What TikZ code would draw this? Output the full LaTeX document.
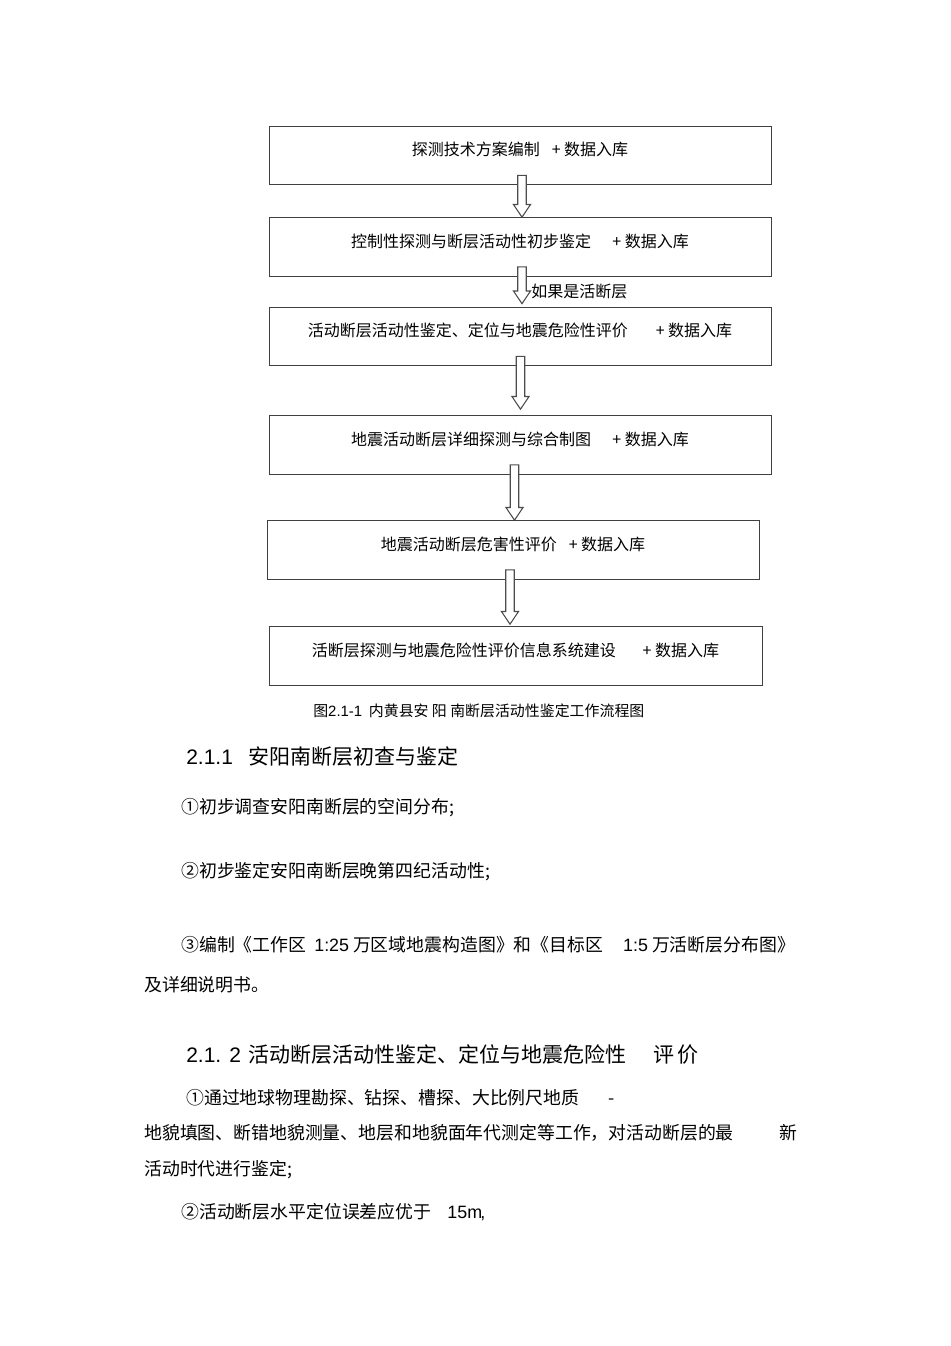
\documentclass[tikz,border=0pt]{standalone}
\usepackage{fontspec}
\setmainfont{Noto Sans CJK SC}
\newfontfamily\latfont{Liberation Sans}
\usetikzlibrary{positioning}
\usetikzlibrary{calc}

\newcommand{\lat}[1]{{\latfont #1}}
% hollow block arrow: from node, to node, x position, gap above target
\newcommand{\flowarrow}[4]{%
  \coordinate (ax) at (#3,0);
  \draw[hollow] let \p1=($(#1.south -| ax)+(0,-10)$), \p2=($(#2.north -| ax)+(0,-#4)$) in
    (\x1-3.2pt,\y1) -- (\x1-3.2pt,\y2+9.5pt) -- (\x1-6.4pt,\y2+9.5pt) -- (\x2,\y2)
    -- (\x1+6.4pt,\y2+9.5pt) -- (\x1+3.2pt,\y2+9.5pt) -- (\x1+3.2pt,\y1) -- cycle;
}

\begin{document}
\begin{tikzpicture}[x=0.75pt, y=-0.75pt,
    flowbox/.style={draw=black!75, line width=0.75pt, minimum height=44pt, inner sep=0pt,
      text height=8pt, text depth=8pt, font=\fontsize{12}{14}\selectfont},
    hollow/.style={draw=black!70, line width=0.8pt, fill=white},
    body/.style={anchor=west, inner sep=0pt, font=\fontsize{13.4}{16}\selectfont},
    heading/.style={anchor=west, inner sep=0pt, font=\fontsize{15.75}{18}\selectfont}]
  \useasboundingbox (0,0) rectangle (950,1346);

  % work flow of the fault survey
  \node[flowbox, minimum width=376.5pt] (plan) at (520,155.5) {探测技术方案编制\hspace{9pt}+ 数据入库};
  \node[flowbox, minimum width=376.5pt] (control) at (520,247) {控制性探测与断层活动性初步鉴定\hspace{16pt}+ 数据入库};
  \node[flowbox, minimum width=376.5pt] (locate) at (520,336.5) {活动断层活动性鉴定、定位与地震危险性评价\hspace{21pt}+ 数据入库};
  \node[flowbox, minimum width=376.5pt] (detail) at (520,445) {地震活动断层详细探测与综合制图\hspace{16pt}+ 数据入库};
  \node[flowbox, minimum width=369pt] (hazard) at (513,550) {地震活动断层危害性评价\hspace{9pt}+ 数据入库};
  \node[flowbox, minimum width=369.75pt] (system) at (515.5,656) {活断层探测与地震危险性评价信息系统建设\hspace{20pt}+ 数据入库};

  \flowarrow{plan}{control}{522}{0}
  \flowarrow{control}{locate}{522}{3}
  \flowarrow{locate}{detail}{520.5}{6}
  \flowarrow{detail}{hazard}{514.5}{0}
  \flowarrow{hazard}{system}{510}{2}

  \node[anchor=west, inner sep=0pt, font=\fontsize{12}{14}\selectfont] (cond) at (531,291) {如果是活断层};

  \node[anchor=west, inner sep=0pt, font=\fontsize{11.2}{13}\selectfont] (caption) at (313,711)
    {图\lat{2.1-1}\hspace{5pt}内黄县安 阳 南断层活动性鉴定工作流程图};

  % text below the figure
  \node[heading] (sec1) at (186,757) {\lat{2.1.1}\hspace{12pt}安阳南断层初查与鉴定};
  \node[body] (sec1a) at (181,808) {①初步调查安阳南断层的空间分布;};
  \node[body] (sec1b) at (181,872) {②初步鉴定安阳南断层晚第四纪活动性;};
  \node[body] (sec1c) at (181,945) {③编制《工作区\hspace{6pt}\lat{1:25} 万区域地震构造图》和《目标区\hspace{15pt}\lat{1:5} 万活断层分布图》};
  \node[body] (sec1d) at (144,985) {及详细说明书。};

  \node[heading] (sec2) at (186,1055) {\lat{2.1.\hspace{6pt}2}\hspace{6pt}活动断层活动性鉴定、定位与地震危险性\hspace{20pt}评\hspace{2pt}价};
  \node[body] (sec2a) at (186,1098) {①通过地球物理勘探、钻探、槽探、大比例尺地质\hspace{22pt}-};
  \node[body] (sec2b) at (144,1133) {地貌填图、断错地貌测量、地层和地貌面年代测定等工作，对活动断层的最\hspace{34pt}新};
  \node[body] (sec2c) at (144,1170) {活动时代进行鉴定;};
  \node[body] (sec2d) at (181,1212) {②活动断层水平定位误差应优于\hspace{12pt}\lat{15m\kern-0.1em,}};
\end{tikzpicture}
\end{document}
